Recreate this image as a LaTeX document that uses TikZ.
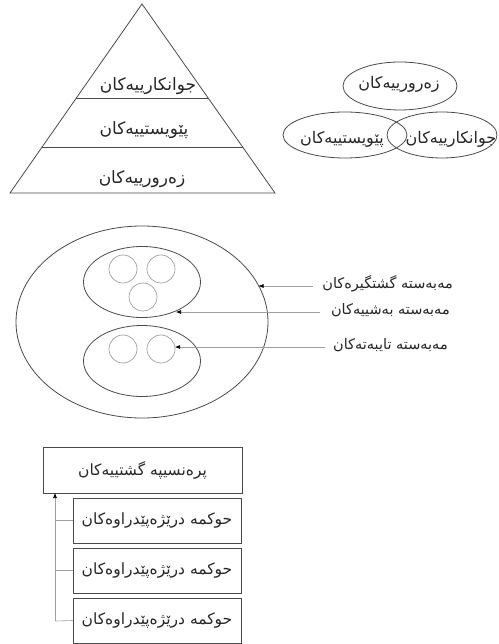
\documentclass[tikz,border=0pt]{standalone}
\usepackage{fontspec}
\usetikzlibrary{arrows.meta,shapes.geometric}
\TeXXeTstate=1
\newfontfamily\arabicfont[Script=Arabic]{DejaVu Sans}
\definecolor{lineC}{HTML}{4A4A4A}
\definecolor{lightC}{HTML}{A0A0A0}
\newcommand{\rtl}[1]{\arabicfont\beginR #1\endR}
\begin{document}
\begin{tikzpicture}[x=1pt,y=-1pt,
  outl/.style={draw=lineC, line width=0.8pt},
  thin/.style={draw=lightC, line width=0.6pt},
  lbl/.style={font=\fontsize{14.5}{17}\arabicfont, inner sep=0pt, text=black!85},
  pyl/.style={font=\fontsize{17}{20}\arabicfont, inner sep=0pt, text=black!85},
  vnl/.style={font=\fontsize{16}{19}\arabicfont, inner sep=0pt, text=black!85},
  ell/.style={ellipse, draw=lineC, line width=0.8pt, inner sep=0pt},
  smallc/.style={circle, draw=lightC, line width=0.7pt, minimum size=28pt, inner sep=0pt},
  boxn/.style={rectangle, draw=lineC, line width=0.8pt, inner sep=0pt, text=black!85, font=\fontsize{15.5}{18}\arabicfont},
  tip/.style={-{Latex[length=5pt,width=4pt,color=black]}, draw=lightC, line width=0.6pt},
]
\useasboundingbox (0,0) rectangle (498,644);
% ---------- pyramid ----------
\coordinate (pA) at (142,4);
\coordinate (pL) at (10,193);
\coordinate (pR) at (275,193);
\draw[outl] (pA) -- (pL) -- (pR) -- cycle;
\coordinate (l1a) at (76.3,98);
\coordinate (l1b) at (208.1,98);
\coordinate (l2a) at (42.1,147);
\coordinate (l2b) at (242.6,147);
\draw[outl] (l1a) -- (l1b);
\draw[outl] (l2a) -- (l2b);
\node[pyl] (py1) at (148,86) {\rtl{جوانکارییەکان}};
\node[pyl] (py2) at (144,130) {\rtl{پێویستییەکان}};
\node[pyl] (py3) at (142,179) {\rtl{زەرورییەکان}};
% ---------- venn ----------
\node[ell, minimum width=114pt, minimum height=48pt] (vt) at (400,86) {};
\node[ell, minimum width=124pt, minimum height=46pt] (vl) at (345,135) {};
\node[ell, minimum width=110pt, minimum height=46pt] (vr) at (442,135) {};
\node[vnl] (vtt) at (399,84) {\rtl{زەرورییەکان}};
\node[vnl] (vlt) at (342,139) {\rtl{پێویستییەکان}};
\node[vnl] (vrt) at (451,139) {\rtl{جوانکارییەکان}};
% ---------- nested sets ----------
\node[ell, minimum width=252pt, minimum height=192pt] (outer) at (142,322) {};
\node[ell, minimum width=117pt, minimum height=71pt] (up) at (142,282) {};
\node[ell, minimum width=117pt, minimum height=71pt] (lo) at (142,361) {};
\node[smallc] (c1) at (123,269) {};
\node[smallc] (c2) at (161,269) {};
\node[smallc] (c3) at (143,297) {};
\node[smallc] (c4) at (123,349) {};
\node[smallc] (c5) at (161,349) {};
\node[lbl, anchor=east] (m1) at (453,284) {\rtl{مەبەستە گشتگیرەکان}};
\node[lbl, anchor=east] (m2) at (450,310) {\rtl{مەبەستە بەشییەکان}};
\node[lbl, anchor=east] (m3) at (448,345) {\rtl{مەبەستە تایبەتەکان}};
\coordinate (t1) at (258.5,286);
\coordinate (t2) at (176,312);
\coordinate (t3) at (175,347);
\coordinate (s1) at (313,286);
\coordinate (s2) at (320,312);
\coordinate (s3) at (325,347);
\draw[tip] (s1) -- (t1);
\draw[tip] (s2) -- (t2);
\draw[tip] (s3) -- (t3);
% ---------- boxes ----------
\node[boxn, minimum width=199pt, minimum height=46pt] (gen) at (142.5,470) {\rtl{پرەنسیپە گشتییەکان}};
\node[boxn, minimum width=168pt, minimum height=45pt] (b1) at (157,520.5) {\rtl{حوکمە درێژەپێدراوەکان}};
\node[boxn, minimum width=168pt, minimum height=45pt] (b2) at (157,570.5) {\rtl{حوکمە درێژەپێدراوەکان}};
\node[boxn, minimum width=168pt, minimum height=45pt] (b3) at (157,620.5) {\rtl{حوکمە درێژەپێدراوەکان}};
\coordinate (vb) at (55,621);
\coordinate (vtop) at (55,493);
\draw[tip] (vb) -- (vtop);
\draw[thin] (vb) -- (b3.west);
\draw[thin] (55,520.5) -- (b1.west);
\draw[thin] (55,570.5) -- (b2.west);
\end{tikzpicture}
\end{document}
